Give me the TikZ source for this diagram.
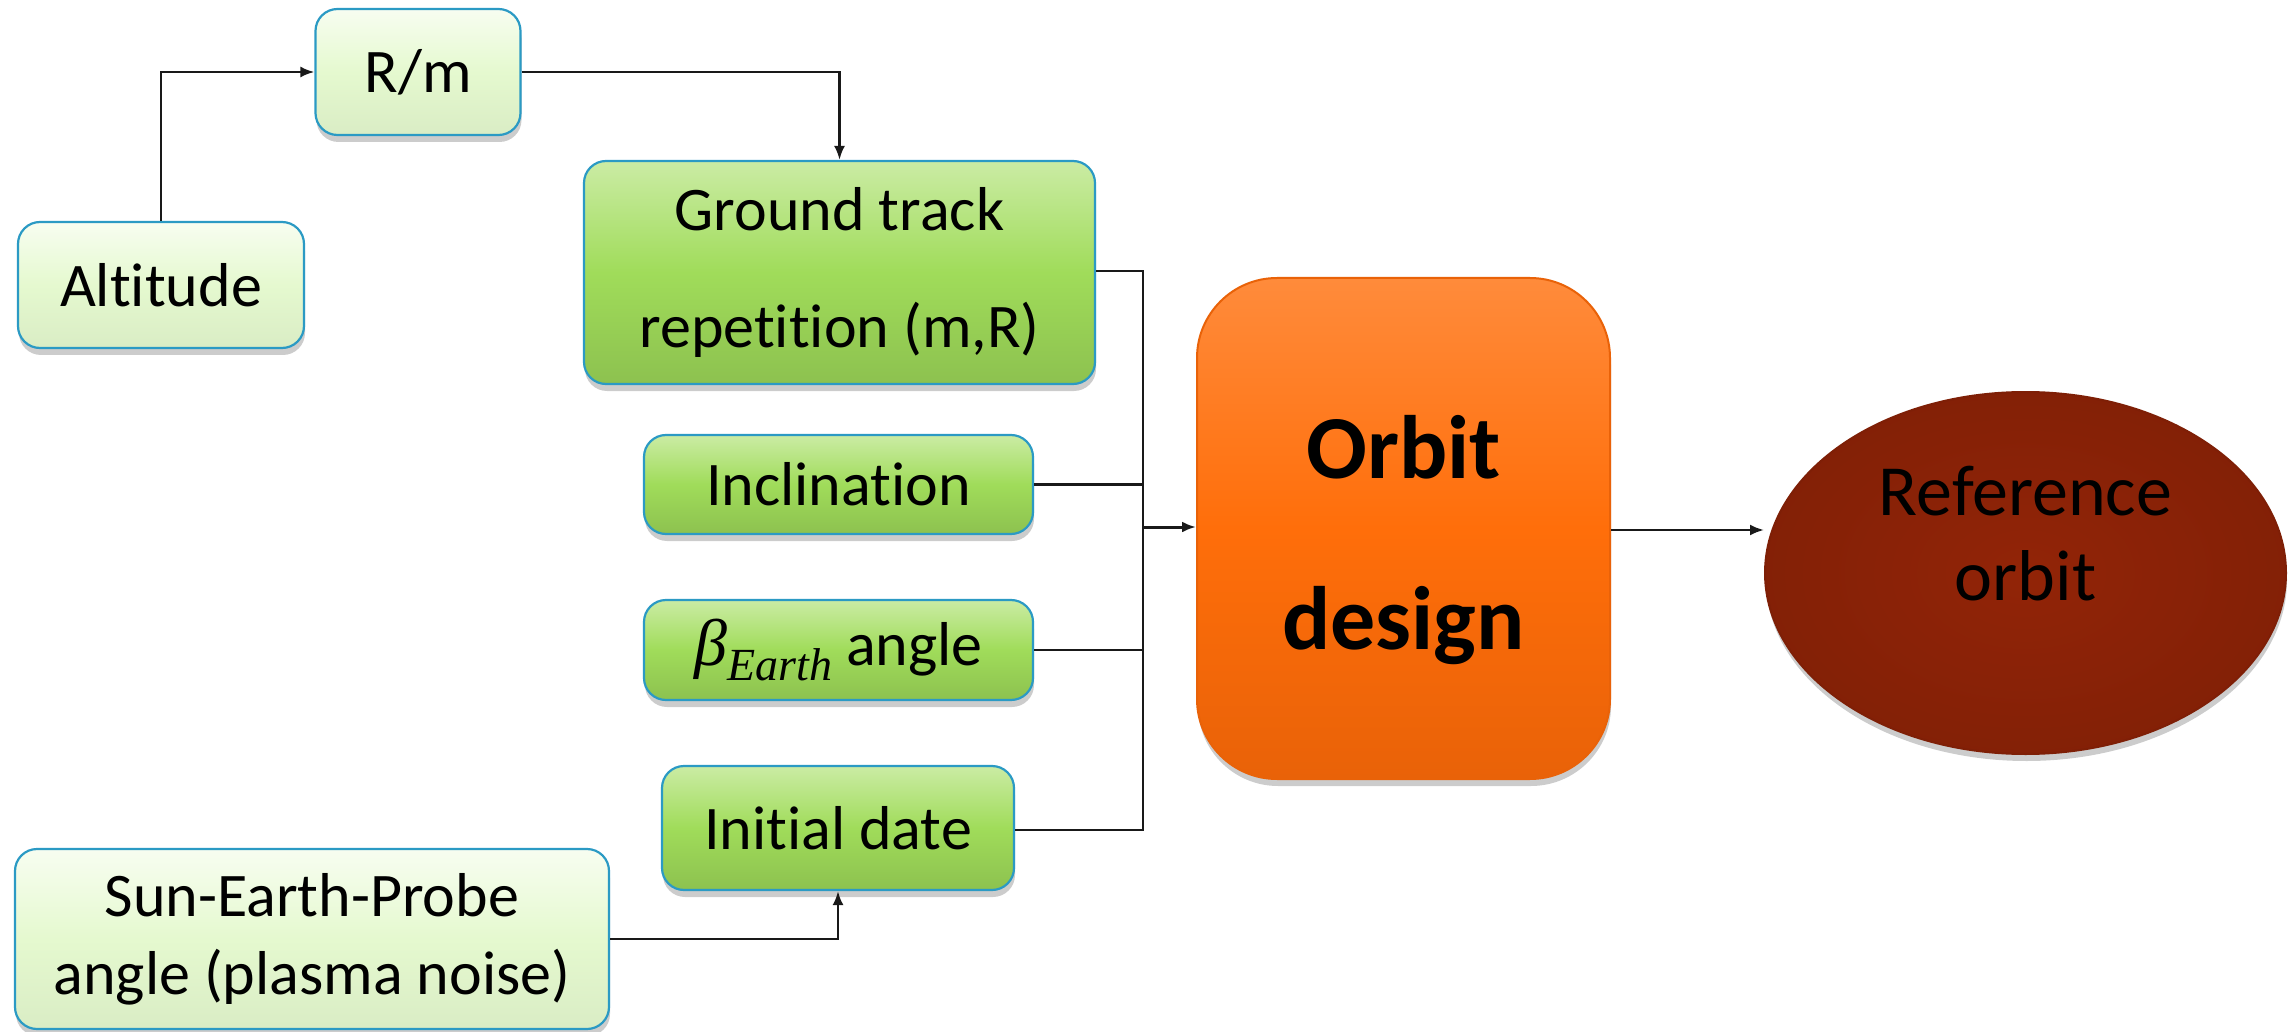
\documentclass[tikz,border=0pt]{standalone}
\usepackage{fontspec}
\setmainfont{Carlito}[Ligatures=NoCommon]
\newfontfamily\bserif{Liberation Serif}
\usetikzlibrary{shapes.geometric,shadows,arrows.meta}
\definecolor{lightg}{HTML}{E5F9CF}
\definecolor{midg}{HTML}{A0DC5A}
\definecolor{edgeb}{HTML}{2B9AC4}
\definecolor{orng}{HTML}{FF6E0A}
\definecolor{orngd}{HTML}{E96208}
\definecolor{brwn}{HTML}{922407}
\definecolor{brwnd}{HTML}{7E1F06}
\tikzset{
  base/.style={rounded corners=22pt, draw=edgeb, line width=2.2pt, align=center,
    inner sep=0pt, text=black,
    drop shadow={shadow xshift=1pt, shadow yshift=-7pt, opacity=0.2, fill=black}},
  lbox/.style={base, top color=white!70!lightg, bottom color=lightg!95!black, middle color=lightg,
    font=\fontsize{62}{78}\selectfont},
  gbox/.style={base, top color=white!45!midg, bottom color=midg!88!black, middle color=midg,
    font=\fontsize{62}{117}\selectfont},
  wire/.style={line width=2.4pt, draw=black!90},
  arr/.style={wire, -{Latex[length=14pt,width=11pt]}},
  shad/.style={drop shadow={shadow xshift=1pt, shadow yshift=-7pt, opacity=0.2, fill=black}},
}
\begin{document}
\begin{tikzpicture}[x=1pt,y=-1pt]
\useasboundingbox (0,0) rectangle (2295,1032);
% nodes
\node[lbox, minimum width=286pt, minimum height=126pt] (alt) at (161,285) {Altitude};
\node[lbox, minimum width=205pt, minimum height=126pt] (rm) at (418,72) {R/m};
\node[gbox, minimum width=511pt, minimum height=223pt] (gt) at (839.5,272.5) {Ground track\\repetition (m,R)};
\node[gbox, minimum width=389pt, minimum height=99pt] (inc) at (838.5,484.5) {Inclination};
\node[gbox, minimum width=389pt, minimum height=100pt] (beta) at (838.5,650) {{\bserif\itshape\fontsize{66}{66}\selectfont β\raisebox{-0.22em}{\fontsize{46}{46}\selectfont Earth}} angle};
\node[gbox, minimum width=352pt, minimum height=124pt] (idate) at (838,828) {Initial date};
\node[lbox, minimum width=594pt, minimum height=180pt] (sep) at (312,939) {Sun-Earth-Probe\\angle (plasma noise)};
\node[rounded corners=80pt, draw=orngd, line width=2pt, top color=orng!80!white, bottom color=orngd, middle color=orng,
  minimum width=413pt, minimum height=501pt, align=center, inner sep=0pt, shad] (od) at (1403.5,528.5) {};
\node[font=\fontsize{90}{171}\selectfont\bfseries, align=center, inner sep=0pt] (odt) at (1403.5,540) {Orbit\\design};
\node[ellipse, draw=brwnd, line width=2pt, inner color=brwn, outer color=brwn!90!black,
  minimum width=521pt, minimum height=362pt, inner sep=0pt, shad] (ref) at (2025.5,573) {};
\node[font=\fontsize{72}{85}\selectfont, align=center, inner sep=0pt] (reft) at (2025.5,534) {Reference\\orbit};
% coordinates
\coordinate (b1) at (1143,271);
\coordinate (b4) at (1143,830);
\coordinate (bj) at (1143,527);
% connectors
\draw[arr] (alt.north) |- (rm.west);
\draw[arr] (rm.east) -| (gt.north);
\draw[arr] (sep.east) -| (idate.south);
\draw[wire] (gt.east |- b1) -- (b1) -- (b4) -- (idate.east |- b4);
\draw[wire] (inc.east) -- (inc.east -| b1);
\draw[wire] (beta.east) -- (beta.east -| b1);
\draw[arr, line width=3pt] (bj) -- (od.west |- bj);
\draw[arr] (od.east |- 0,530) -- (ref.west |- 0,530);
\end{tikzpicture}
\end{document}
